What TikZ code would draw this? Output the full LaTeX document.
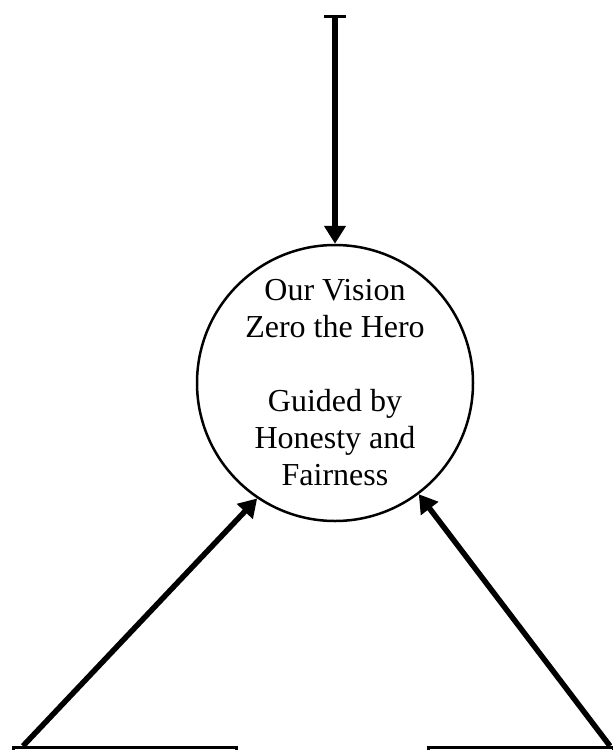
\documentclass[tikz,border=0pt]{standalone}
\usepackage{fontspec}
\setmainfont{Liberation Serif}
\usetikzlibrary{arrows.meta}
\begin{document}
\begin{tikzpicture}[x=1pt,y=-1pt,
  flow/.style={line width=5.5pt, -{Triangle[width=21pt,length=18pt]}},
  partbox/.style={draw, line width=3pt, minimum width=#1, minimum height=80pt,
    anchor=north west, inner sep=0pt}]
  \useasboundingbox (0,0) rectangle (613,750);
  % vision circle
  \node[circle, draw, line width=2.5pt, minimum size=276pt, inner sep=0pt, align=center,
        font=\fontsize{32}{37}\selectfont] (vision) at (335,383)
    {Our Vision\\Zero the Hero\\[37pt]Guided by\\Honesty and\\Fairness};
  \coordinate (feed) at (335,15);
  \draw[line width=5.5pt, {Bar[width=22pt,line width=3pt]}-{Triangle[width=21pt,length=18pt]}]
    (feed) -- (vision.north);
  % boxes below the page edge
  \node[partbox=223pt] (lbox) at (12,746) {};
  \node[partbox=185pt] (rbox) at (427,746) {};
  \draw[flow] ([xshift=11pt]lbox.north west) -- (vision.236);
  \draw[flow] ([xshift=-5pt]rbox.north east) -- (vision.307);
\end{tikzpicture}
\end{document}
